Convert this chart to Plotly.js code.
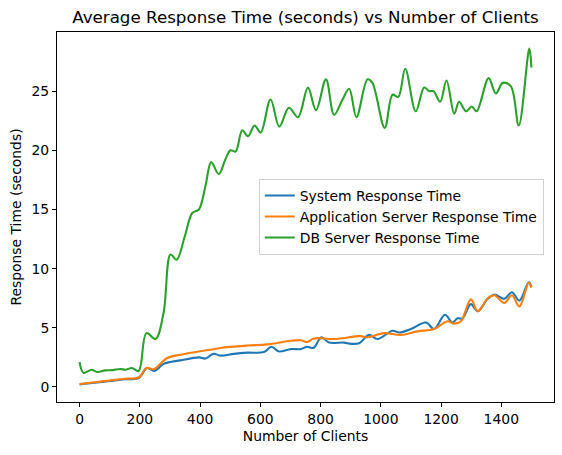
<!DOCTYPE html>
<html>
<head>
<meta charset="utf-8">
<script src="https://cdn.plot.ly/plotly-3.0.1.min.js"></script>
<style>html,body{margin:0;padding:0;background:#fff;}#chart{width:562px;height:455px;}</style>
</head>
<body>
<div id="chart"></div>
<script>
const seriesNames = ["System Response Time", "Application Server Response Time", "DB Server Response Time"];

const systemX = [0,50,100,150,196,224,248,279,335,396,418,444,468,512,557,612,637,662,701,734,756,776,803,828,878,900,928,961,989,1039,1061,1100,1150,1177,1213,1238,1255,1271,1299,1322,1355,1377,1410,1435,1460,1491,1500];
const systemY = [0.22,0.35,0.5,0.65,0.76,1.6,1.35,1.95,2.25,2.5,2.4,2.8,2.65,2.8,2.9,2.95,3.4,3.0,3.2,3.2,3.4,3.3,4.2,3.75,3.75,3.65,3.7,4.4,4.05,4.75,4.6,4.9,5.45,4.9,6.1,5.45,5.8,5.8,7.0,6.4,7.45,7.8,7.45,8.0,7.3,8.85,8.45];

const appX = [0,50,100,150,196,222,246,291,335,396,435,468,557,623,701,734,756,778,845,933,954,1011,1066,1122,1177,1222,1244,1266,1299,1322,1355,1377,1410,1435,1460,1491,1500];
const appY = [0.25,0.4,0.55,0.7,0.8,1.6,1.5,2.45,2.73,3.0,3.15,3.3,3.5,3.6,3.9,3.95,3.8,4.1,4.05,4.3,4.2,4.55,4.4,4.7,4.9,5.55,5.35,5.55,7.4,6.4,7.5,7.75,7.1,7.75,6.8,8.8,8.4];

const dbX = [0,13,40,58,85,110,135,152,174,196,222,252,279,302,322,350,374,396,418,437,462,485,501,518,540,559,581,601,634,663,695,725,758,785,818,845,873,895,919,956,972,1013,1039,1058,1081,1116,1144,1161,1175,1197,1218,1244,1260,1283,1302,1318,1358,1382,1405,1432,1458,1493,1500];
const dbY = [2.1,1.2,1.45,1.27,1.4,1.42,1.52,1.46,1.6,1.35,4.55,4.05,6.3,11.2,10.75,12.8,14.7,15.0,17.0,19.0,18.0,19.3,20.0,19.9,21.7,21.2,22.1,21.5,24.3,22.0,23.6,22.8,25.3,23.4,26.0,23.0,24.3,25.2,22.8,26.0,25.7,21.9,24.7,24.5,26.9,23.3,25.3,25.0,25.0,24.1,25.9,23.1,24.1,23.3,23.7,23.3,26.1,24.8,25.7,25.4,22.1,28.6,27.0];

const xTicks = [0,200,400,600,800,1000,1200,1400];
const yTicks = [0,5,10,15,20,25];

const colors = ["#1f77b4", "#ff7f0e", "#2ca02c"];
const xs = [systemX, appX, dbX];
const ys = [systemY, appY, dbY];

const traces = seriesNames.map((n, i) => ({
  type: "scatter", mode: "lines", name: n, x: xs[i], y: ys[i],
  line: {color: colors[i], width: 2.1, shape: "spline", smoothing: 1}
}));

const font = "DejaVu Sans, sans-serif";
const layout = {
  width: 562, height: 455,
  margin: {l: 57, r: 8, t: 32, b: 53},
  paper_bgcolor: "#fff", plot_bgcolor: "#fff",
  font: {family: font, size: 13.9, color: "#000"},
  title: {text: "Average Response Time (seconds) vs Number of Clients", font: {family: font, size: 16.7, color: "#000"},
    x: 0.5, xref: "paper", xanchor: "center", y: 1 - 17/455, yref: "container", yanchor: "middle"},
  xaxis: {range: [-75, 1575], tickvals: xTicks, ticktext: xTicks.map(String), showgrid: false, zeroline: false,
    showline: true, linecolor: "#000", linewidth: 1, mirror: true, ticks: "outside", ticklen: 4, tickcolor: "#000",
    tickfont: {size: 13.9}, title: {text: "Number of Clients", font: {size: 13.9}, standoff: 5}},
  yaxis: {range: [-1.27, 30.0], tickvals: yTicks, ticktext: yTicks.map(String), showgrid: false, zeroline: false,
    showline: true, linecolor: "#000", linewidth: 1, mirror: true, ticks: "outside", ticklen: 4, tickcolor: "#000",
    tickfont: {size: 13.9}, title: {text: "Response Time (seconds)", font: {size: 13.9}, standoff: 6}},
  showlegend: true,
  legend: {x: 0.406, y: 0.603, xanchor: "left", yanchor: "top", bgcolor: "rgba(255,255,255,0.8)",
    bordercolor: "#d0d0d0", borderwidth: 1, font: {size: 13.9}, tracegroupgap: 0}
};

Plotly.newPlot("chart", traces, layout, {displayModeBar: false, staticPlot: true});
</script>
</body>
</html>
